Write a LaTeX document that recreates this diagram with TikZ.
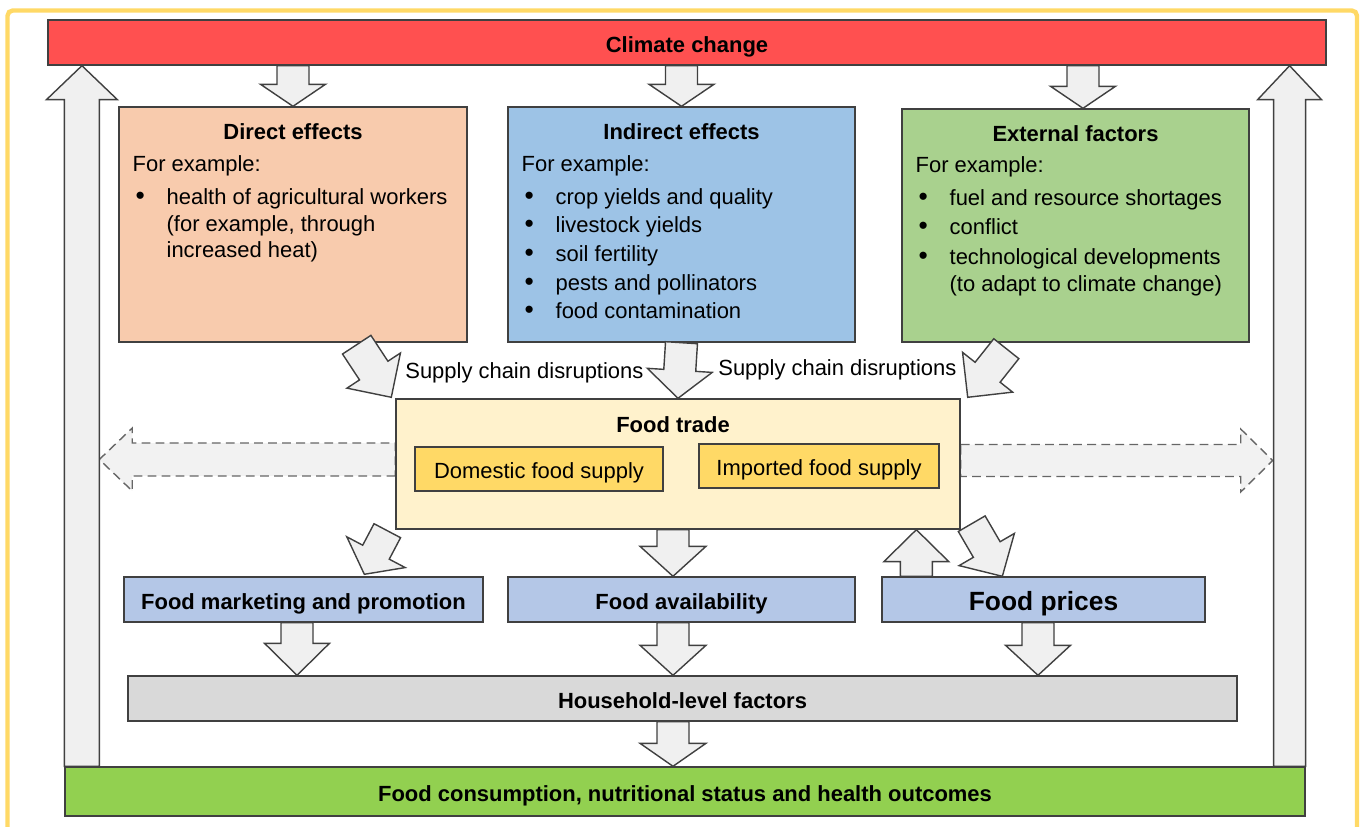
\documentclass[tikz,border=0pt]{standalone}
\usepackage{fontspec}
\setmainfont{Liberation Sans}
\usepackage{tikz}
\usetikzlibrary{calc,fit,backgrounds}

\definecolor{frameyel}{HTML}{FFD966}
\definecolor{climred}{HTML}{FF5050}
\definecolor{directc}{HTML}{F8CBAD}
\definecolor{indirc}{HTML}{9DC3E6}
\definecolor{extc}{HTML}{A9D18E}
\definecolor{tradec}{HTML}{FFF2CC}
\definecolor{supplyc}{HTML}{FFD966}
\definecolor{lowblue}{HTML}{B4C7E7}
\definecolor{housec}{HTML}{D9D9D9}
\definecolor{outgreen}{HTML}{92D050}

\tikzset{
    shaft half/.store in=\fasw, head half/.store in=\fahw, head len/.store in=\fahl,
    shaft half=0.32cm, head half=0.65cm, head len=0.44cm,
    fat/.style={draw=black!75, fill=black!6, line width=0.8pt},
    fatdash/.style={fat, draw=black!60, fill=black!5, dash pattern=on 5pt off 3pt}
}

% block arrow from #2 to #3
\newcommand{\fatarrow}[3][]{%
    \coordinate (fa-s) at (#2);
    \coordinate (fa-e) at (#3);
    \draw[fat,#1] ($(fa-s)!\fasw!90:(fa-e)$)
        -- ($(fa-e)!\fahl!(fa-s)!\fasw!90:(fa-e)$)
        -- ($(fa-e)!\fahl!(fa-s)!\fahw!90:(fa-e)$)
        -- (fa-e)
        -- ($(fa-e)!\fahl!(fa-s)!\fahw!-90:(fa-e)$)
        -- ($(fa-e)!\fahl!(fa-s)!\fasw!-90:(fa-e)$)
        -- ($(fa-s)!\fasw!-90:(fa-e)$) -- cycle;}

\newcommand{\bul}{\hspace{0.06cm}{\fontsize{15pt}{15pt}\selectfont\textbullet}}

\begin{document}
\begin{tikzpicture}[
    x=0.02cm, y=-0.02cm,
    txt/.style={inner sep=0pt, font=\fontsize{12.5pt}{15.3pt}\selectfont},
    boxtitle/.style={inner sep=0pt, font=\fontsize{12.5pt}{15.3pt}\selectfont\bfseries},
    bar/.style={rectangle, draw=black!75, line width=0.8pt, inner sep=0pt, minimum height=0.9cm, text height=12pt, text depth=1pt, font=\fontsize{12.5pt}{15.3pt}\selectfont\bfseries},
    effect/.style={rectangle, draw=black!75, line width=0.8pt, inner sep=0pt},
    supply/.style={bar, fill=supplyc, minimum height=0.88cm, font=\fontsize{12.5pt}{15.3pt}\selectfont}
]

\useasboundingbox (0,0) rectangle (1362,827);

% Frame
\draw[draw=frameyel, line width=2.5pt, rounded corners=3pt] (7.5,10.5) rectangle (1357,850);

% Top and bottom bars
\node[bar, fill=climred, minimum width=25.56cm] (climate) at (687,42.5) {Climate change};
\node[bar, fill=outgreen, minimum width=24.8cm, minimum height=0.98cm] (outcome) at (685,791.5) {Food consumption, nutritional status and health outcomes};

% Effects
\node[effect, fill=directc, fit={(119,107) (467,342)}] (direct) {};
\node[boxtitle, anchor=base] at ($(direct.north)+(0,33)$) {Direct effects};
\node[txt, anchor=base west] (directlist) at ($(direct.north west)+(14,65)$) {%
\begin{tabular}[t]{@{}p{0.68cm}@{}l@{}}
\multicolumn{2}{@{}l@{}}{For example:}\\[3.4pt]
\bul & health of agricultural workers\\
 & (for example, through\\
 & increased heat)
\end{tabular}};

\node[effect, fill=indirc, fit={(508,107) (855,342)}] (indirect) {};
\node[boxtitle, anchor=base] at ($(indirect.north)+(0,33)$) {Indirect effects};
\node[txt, anchor=base west] (indirectlist) at ($(indirect.north west)+(14,65)$) {%
\begin{tabular}[t]{@{}p{0.68cm}@{}l@{}}
\multicolumn{2}{@{}l@{}}{For example:}\\[3.4pt]
\bul & crop yields and quality\\[1pt]
\bul & livestock yields\\[1pt]
\bul & soil fertility\\[1pt]
\bul & pests and pollinators\\[1pt]
\bul & food contamination
\end{tabular}};

\node[effect, fill=extc, fit={(902,109) (1249,342)}] (external) {};
\node[boxtitle, anchor=base] at ($(external.north)+(0,33)$) {External factors};
\node[txt, anchor=base west] (externallist) at ($(external.north west)+(14,64)$) {%
\begin{tabular}[t]{@{}p{0.68cm}@{}l@{}}
\multicolumn{2}{@{}l@{}}{For example:}\\[3.4pt]
\bul & fuel and resource shortages\\[1.5pt]
\bul & conflict\\[1.5pt]
\bul & technological developments\\
 & (to adapt to climate change)
\end{tabular}};

% Food trade
\node[effect, fill=tradec, fit={(396,399) (960,529)}] (trade) {};
\node[boxtitle, anchor=base] at ($(trade.north)+(-5,34)$) {Food trade};
\node[supply, minimum width=4.96cm] (domestic) at (539,469) {Domestic food supply};
\node[supply, minimum width=4.8cm] (imported) at (819,466) {Imported food supply};

\node[txt, anchor=base west] (scd1) at (405,378) {Supply chain disruptions};
\node[txt, anchor=base west] (scd2) at (718,376) {Supply chain disruptions};

% Lower boxes
\node[bar, fill=lowblue, minimum width=7.18cm] (market) at (303.5,599.5) {Food marketing and promotion};
\node[bar, fill=lowblue, minimum width=6.94cm] (avail) at (681.5,599.5) {Food availability};
\node[bar, fill=lowblue, minimum width=6.46cm, text height=13pt, font=\fontsize{15pt}{18pt}\selectfont\bfseries] (prices) at (1043.5,599.5) {Food prices};
\node[bar, fill=housec, minimum width=22.18cm] (house) at (682.5,698.5) {Household-level factors};

% Trade flows
\begin{scope}[on background layer]
\fatarrow[fatdash, shaft half=0.33cm, head half=0.63cm, head len=0.66cm]{$(trade.west)+(0,-4.5)$}{$(trade.west)+(-296,-4.5)$}
\fatarrow[fatdash, shaft half=0.32cm, head half=0.63cm, head len=0.64cm]{$(trade.east)+(0,-3.5)$}{$(trade.east)+(312,-3.5)$}
\end{scope}

% Connections
\fatarrow[shaft half=0.35cm, head half=0.71cm, head len=0.68cm]{$(outcome.north west)+(17.5,0)$}{$(climate.south west)+(34.5,0)$}
\fatarrow[shaft half=0.32cm, head half=0.64cm, head len=0.68cm]{$(outcome.north east)+(-16,0)$}{$(climate.south east)+(-37,0)$}

\fatarrow{direct.north |- climate.south}{direct.north}
\fatarrow{indirect.north |- climate.south}{indirect.north}
\fatarrow{$(external.north |- climate.south)+(7.5,0)$}{$(external.north)+(7.5,0)$}

\fatarrow[shaft half=0.34cm, head half=0.64cm, head len=0.64cm]{$(direct.south east)+(-111,2)$}{$(trade.north west)+(-4,-1)$}
\fatarrow[head len=0.56cm]{indirect.south}{trade.north}
\fatarrow[head len=0.64cm, head half=0.64cm]{$(external.south west)+(105,6)$}{$(trade.north east)+(7,-1)$}

\fatarrow[shaft half=0.3cm, head half=0.66cm, head len=0.5cm]{$(trade.south west)+(-8,1)$}{$(market.north west)+(241,-2)$}
\fatarrow[head half=0.66cm, head len=0.6cm]{$(trade.south)+(-5,0)$}{$(avail.north)+(-8.5,0)$}
\fatarrow[head len=0.64cm]{$(prices.north west)+(35,0)$}{$(trade.south -| prices.north west)+(35,0)$}
\fatarrow[shaft half=0.31cm, head half=0.64cm, head len=0.62cm]{$(trade.south east)+(11,-6)$}{$(prices.north west)+(121,0)$}

\fatarrow[head len=0.64cm]{$(market.south)+(-6.5,0)$}{$(house.north -| market.south)+(-6.5,0)$}
\fatarrow[head half=0.66cm, head len=0.6cm]{$(avail.south)+(-8.5,0)$}{$(house.north -| avail.south)+(-8.5,0)$}
\fatarrow[head len=0.6cm]{$(prices.south)+(-5.5,0)$}{$(house.north -| prices.south)+(-5.5,0)$}
\fatarrow[head half=0.66cm, head len=0.46cm]{$(house.south -| avail.south)+(-8.5,0)$}{$(outcome.north -| avail.south)+(-8.5,0)$}

\end{tikzpicture}
\end{document}
